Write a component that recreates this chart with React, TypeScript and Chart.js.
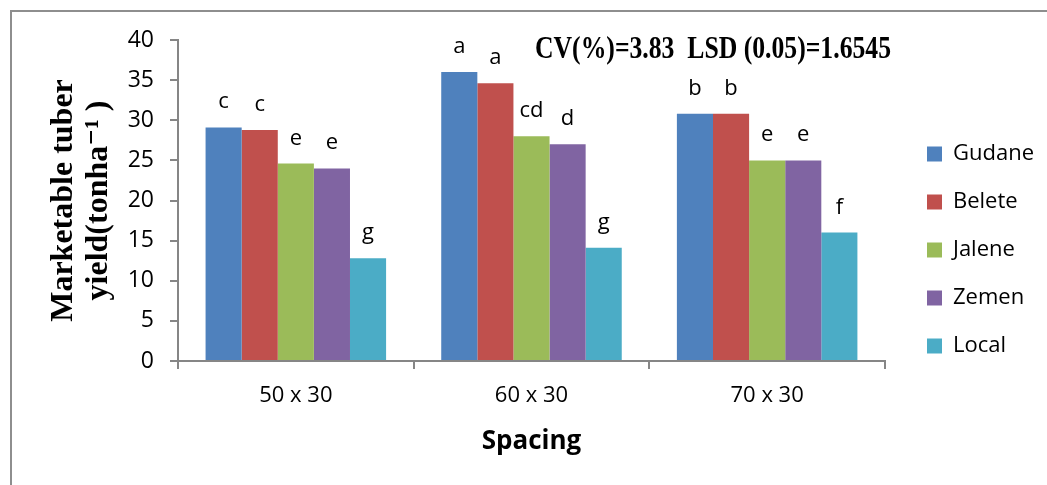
import React, { useEffect, useRef } from 'react';
import { Chart, registerables } from 'chart.js';

Chart.register(...registerables);

// ---- data ----
const categories = ['50 x 30', '60 x 30', '70 x 30'];
const varieties = ['Gudane', 'Belete', 'Jalene', 'Zemen', 'Local'];
const gudane = [29.1, 36.0, 30.8];
const belete = [28.8, 34.6, 30.8];
const jalene = [24.6, 28.0, 25.0];
const zemen = [24.0, 27.0, 25.0];
const local = [12.8, 14.1, 16.0];
const gudaneLetters = ['c', 'a', 'b'];
const beleteLetters = ['c', 'a', 'b'];
const jaleneLetters = ['e', 'cd', 'e'];
const zemenLetters = ['e', 'd', 'e'];
const localLetters = ['g', 'g', 'f'];
const yTicks = [0, 5, 10, 15, 20, 25, 30, 35, 40];
const yTitle = ['Marketable tuber', 'yield(tonha\u207B\u00B9 )'];
const xTitle = 'Spacing';
const statsNote = 'CV(%)=3.83  LSD (0.05)=1.6545';

const colors = ['#4F81BD', '#C0504D', '#9BBB59', '#8064A2', '#4BACC6'];
const seriesValues = [gudane, belete, jalene, zemen, local];
const seriesLetters = [gudaneLetters, beleteLetters, jaleneLetters, zemenLetters, localLetters];

const SANS = '"Open Sans", "Liberation Sans", sans-serif';
const SERIF = '"Liberation Serif", "DejaVu Serif", serif';
const AXIS = '#868686';

const lettersPlugin = {
  id: 'lettersPlugin',
  afterDatasetsDraw(chart: any) {
    const ctx = chart.ctx;
    ctx.save();
    ctx.font = `22px ${SANS}`;
    ctx.fillStyle = '#000';
    ctx.textAlign = 'center';
    ctx.textBaseline = 'alphabetic';
    chart.data.datasets.forEach((_ds: any, i: number) => {
      const meta = chart.getDatasetMeta(i);
      meta.data.forEach((bar: any, j: number) => {
        ctx.fillText(seriesLetters[i][j], bar.x, bar.y - 19);
      });
    });
    ctx.restore();
  },
};

const notePlugin = {
  id: 'notePlugin',
  afterDraw(chart: any) {
    const ctx = chart.ctx;
    ctx.save();
    ctx.font = `bold 32px ${SERIF}`;
    ctx.fillStyle = '#000';
    ctx.textAlign = 'left';
    ctx.textBaseline = 'alphabetic';
    ctx.fillText(statsNote, 535, 58, 356);
    ctx.restore();
  },
};

export default function App() {
  const ref = useRef<HTMLCanvasElement | null>(null);

  useEffect(() => {
    if (!ref.current) return;
    const chart = new Chart(ref.current, {
      type: 'bar',
      data: {
        labels: categories,
        datasets: varieties.map((name, i) => ({
          label: name,
          data: seriesValues[i],
          backgroundColor: colors[i],
          borderWidth: 0,
          categoryPercentage: 0.766,
          barPercentage: 1.0,
        })),
      },
      options: {
        animation: false,
        responsive: true,
        maintainAspectRatio: false,
        layout: { padding: { top: 40, bottom: 25, left: 0, right: 3 } },
        plugins: {
          legend: {
            position: 'right',
            align: 'center',
            labels: {
              boxWidth: 15,
              boxHeight: 15,
              padding: 26,
              color: '#000',
              font: { family: SANS, size: 22 },
            },
          },
          tooltip: { enabled: false },
          title: { display: false },
        },
        scales: {
          x: {
            type: 'category',
            grid: {
              display: true,
              drawOnChartArea: false,
              drawTicks: true,
              tickLength: 8,
              color: AXIS,
              lineWidth: 2,
            },
            border: { display: true, color: AXIS, width: 2 },
            ticks: {
              color: '#000',
              padding: 14,
              font: { family: SANS, size: 22 },
            },
            title: {
              display: true,
              text: xTitle,
              color: '#000',
              font: { family: SANS, size: 26, weight: 'bold' },
              padding: { top: 0, bottom: 3 },
            },
            afterFit: (s: any) => {
              s.height = 99;
            },
          },
          y: {
            type: 'linear',
            min: 0,
            max: 40,
            afterBuildTicks: (s: any) => {
              s.ticks = yTicks.map((v) => ({ value: v }));
            },
            grid: {
              display: true,
              drawOnChartArea: false,
              drawTicks: true,
              tickLength: 8,
              color: AXIS,
              lineWidth: 2,
            },
            border: { display: true, color: AXIS, width: 2 },
            ticks: {
              color: '#000',
              padding: 16,
              font: { family: SANS, size: 23 },
            },
            title: {
              display: true,
              text: yTitle,
              color: '#000',
              font: { family: SERIF, size: 32, weight: 'bold', lineHeight: 1.1 },
              padding: { top: 46, bottom: 0 },
            },
            afterFit: (s: any) => {
              s.width = 178;
            },
          },
          spacer: {
            type: 'linear',
            position: 'right',
            display: true,
            grid: { display: false },
            border: { display: false },
            ticks: { display: false },
            afterFit: (s: any) => {
              s.width = 16;
            },
          },
        },
      },
      plugins: [lettersPlugin, notePlugin],
    } as any);
    return () => chart.destroy();
  }, []);

  return (
    <div
      style={{
        position: 'fixed',
        left: 0,
        top: 0,
        width: 1047,
        height: 485,
        overflow: 'hidden',
        background: '#fff',
      }}
    >
      <div
        style={{
          position: 'absolute',
          left: 10,
          top: 10,
          width: 1200,
          height: 700,
          borderLeft: '2px solid #8e8e8e',
          borderTop: '2px solid #8e8e8e',
        }}
      />
      <canvas ref={ref} style={{ position: 'absolute', left: 0, top: 0 }} />
    </div>
  );
}
